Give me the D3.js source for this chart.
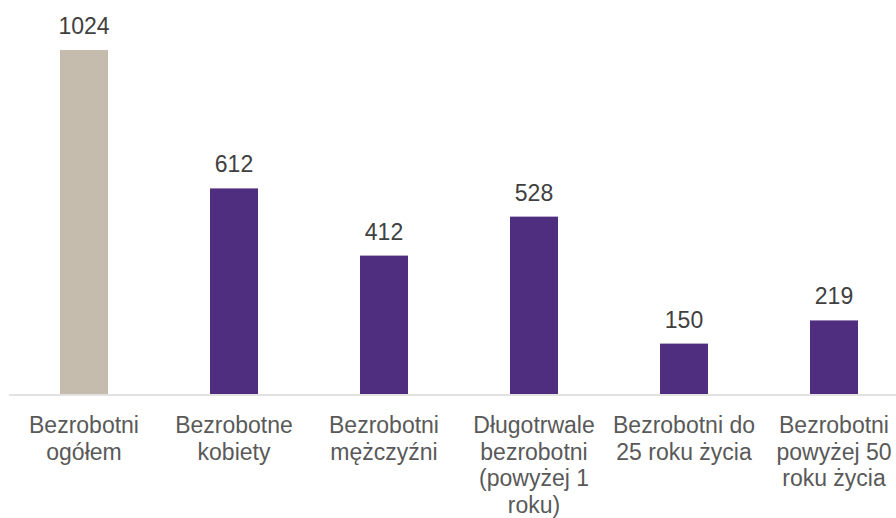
<!DOCTYPE html>
<html>
<head>
<meta charset="utf-8">
<script src="https://cdn.jsdelivr.net/npm/d3@7"></script>
<style>
  html, body { margin: 0; padding: 0; background: #fff; }
  svg { display: block; font-family: Arial, "Liberation Sans", sans-serif; }
</style>
</head>
<body>
<div id="chart"></div>
<script>
// categories (line breaks as in the original)
var categories = [
    "Bezrobotni\nogółem",
    "Bezrobotne\nkobiety",
    "Bezrobotni\nmężczyźni",
    "Długotrwale\nbezrobotni\n(powyżej 1\nroku)",
    "Bezrobotni do\n25 roku życia",
    "Bezrobotni\npowyżej 50\nroku życia"
];
var values = [1024, 612, 412, 528, 150, 219];
var colors = ["#c5bcae", "#4f2d7f", "#4f2d7f", "#4f2d7f", "#4f2d7f", "#4f2d7f"];

var width = 896, height = 518;

var svg = d3.select("#chart").append("svg")
    .attr("width", width)
    .attr("height", height);

var x = d3.scaleBand()
    .domain(categories)
    .range([9, 909])
    .paddingInner(0.68)
    .paddingOuter(0.34);

var y = d3.scaleLinear()
    .domain([0, 1024])
    .range([394, 50]);

//bars
svg.selectAll("rect.bar")
    .data(values)
    .enter().append("rect")
    .attr("class", "bar")
    .attr("x", function (d, i) { return x(categories[i]); })
    .attr("width", x.bandwidth())
    .attr("y", function (d) { return y(d); })
    .attr("height", function (d) { return y(0) - y(d); })
    .attr("fill", function (d, i) { return colors[i]; });

//value labels
svg.selectAll("text.val")
    .data(values)
    .enter().append("text")
    .attr("class", "val")
    .attr("x", function (d, i) { return x(categories[i]) + x.bandwidth() / 2; })
    .attr("y", function (d) { return y(d) - 16; })
    .attr("text-anchor", "middle")
    .attr("fill", "#404040")
    .style("font-size", "23px")
    .text(function (d) { return d; });

//axis line
svg.append("line")
    .attr("x1", 9).attr("x2", width)
    .attr("y1", y(0) + 1).attr("y2", y(0) + 1)
    .attr("stroke", "#d9d9d9")
    .attr("stroke-width", 1.5);

//category labels
var lab = svg.selectAll("text.cat")
    .data(categories)
    .enter().append("text")
    .attr("class", "cat")
    .attr("text-anchor", "middle")
    .attr("fill", "#595959")
    .style("font-size", "23px")
    .attr("transform", function (d) {
        return "translate(" + (x(d) + x.bandwidth() / 2) + ",433)";
    });

lab.selectAll("tspan")
    .data(function (d) { return d.split("\n"); })
    .enter().append("tspan")
    .attr("x", 0)
    .attr("y", function (d, i) { return i * 26.5; })
    .text(function (d) { return d; });
</script>
</body>
</html>
